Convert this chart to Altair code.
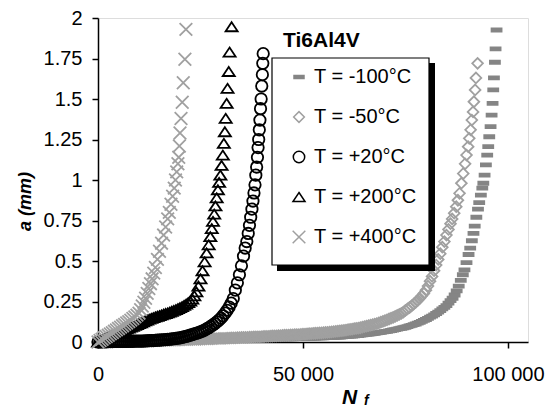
import altair as alt
import pandas as pd

FONT = "Liberation Sans, Arial, sans-serif"

series_names = ["T = -100°C", "T = -50°C", "T = +20°C", "T = +200°C", "T = +400°C"]

# T = -100 °C (dark grey squares)
N_m100 = [0, 2000, 4000, 6000, 8000, 10000, 12000, 14000, 16000, 18000,
          20000, 22000, 24000, 26000, 28000, 30000, 32000, 34000, 36000, 38000,
          40000, 40500, 41000, 41500, 42000, 42500, 43000, 43500, 44000, 44500,
          45000, 45500, 46000, 46500, 47000, 47500, 48000, 48500, 49000, 49500,
          50000, 50500, 51000, 51500, 52000, 52500, 53000, 53500, 54000, 54500,
          55000, 55500, 56000, 56500, 57000, 57500, 58000, 58500, 59000, 59500,
          60000, 60500, 61000, 61500, 62000, 62500, 63000, 63500, 64000, 64500,
          65000, 65500, 66000, 66500, 67000, 67500, 68000, 68500, 69000, 69500,
          70000, 70500, 71000, 71500, 72000, 72500, 73000, 73500, 74000, 74500,
          75000, 75500, 76000, 76500, 77000, 77500, 78000, 78500, 79000, 79500,
          80000, 80500, 81000, 81500, 82000, 82500, 83000, 83500, 84000, 84500,
          85000, 85500, 86000,
          86500, 87000, 87500, 88000, 88500, 89000, 89400, 89900, 90400, 90800,
          91200, 91600, 91900, 92300, 92700, 93000, 93400, 93750, 94000, 94310,
          94630, 94950, 95200, 95450, 95770, 96020, 96260, 96420, 96590, 96830,
          96990, 97230]
A_m100 = [0.000, 0.000, 0.000, 0.001, 0.001, 0.002, 0.002, 0.003, 0.004, 0.005,
          0.006, 0.007, 0.008, 0.009, 0.010, 0.011, 0.012, 0.013, 0.014, 0.015,
          0.016, 0.016, 0.017, 0.017, 0.017, 0.018, 0.018, 0.018, 0.019, 0.019,
          0.019, 0.019, 0.020, 0.020, 0.020, 0.020, 0.021, 0.021, 0.021, 0.021,
          0.021, 0.022, 0.022, 0.023, 0.023, 0.024, 0.024, 0.025, 0.025, 0.026,
          0.026, 0.027, 0.027, 0.028, 0.029, 0.029, 0.030, 0.031, 0.031, 0.032,
          0.033, 0.034, 0.035, 0.036, 0.037, 0.038, 0.039, 0.040, 0.043, 0.044,
          0.046, 0.047, 0.049, 0.050, 0.052, 0.054, 0.056, 0.058, 0.060, 0.062,
          0.064, 0.066, 0.069, 0.071, 0.074, 0.076, 0.079, 0.082, 0.085, 0.088,
          0.091, 0.095, 0.099, 0.103, 0.107, 0.111, 0.116, 0.121, 0.127, 0.133,
          0.139, 0.146, 0.153, 0.160, 0.168, 0.176, 0.185, 0.194, 0.204, 0.214,
          0.225, 0.240, 0.255,
          0.27, 0.29, 0.315, 0.345, 0.38, 0.415, 0.445, 0.49, 0.54, 0.58,
          0.625, 0.67, 0.715, 0.77, 0.82, 0.86, 0.907, 0.95, 0.98, 1.03,
          1.093, 1.154, 1.206, 1.267, 1.33, 1.40, 1.473, 1.556, 1.63, 1.727,
          1.81, 1.926]

# T = -50 °C (light grey open diamonds)
N_m50 = [0, 500, 1000, 1500, 2000, 2500, 3000, 3500, 4000, 4500,
         5000, 5500, 6000, 6500, 7000, 7500, 8000, 8500, 9000, 9500,
         10000, 10500, 11000, 11500, 12000, 12500, 13000, 13500, 14000, 14500,
         15000, 15500, 16000, 16500, 17000, 17500, 18000, 18500, 19000, 19500,
         20000, 20500, 21000, 21500, 22000, 22500, 23000, 23500, 24000, 24500,
         25000, 25500, 26000, 26500, 27000, 27500, 28000, 28500, 29000, 29500,
         30000, 30500, 31000, 31500, 32000, 32500, 33000, 33500, 34000, 34500,
         35000, 35500, 36000, 36500, 37000, 37500, 38000, 38500, 39000, 39500,
         40000, 40500, 41000, 41500, 42000, 42500, 43000, 43500, 44000, 44500,
         45000, 45500, 46000, 46500, 47000, 47500, 48000, 48500, 49000, 49500,
         50000, 50500, 51000, 51500, 52000, 52500, 53000, 53500, 54000, 54500,
         55000, 55500, 56000, 56500, 57000, 57500, 58000, 58500, 59000, 59500,
         60000, 60500, 61000, 61500, 62000, 62500, 63000, 63500, 64000, 64500,
         65000, 65500, 66000, 66500, 67000, 67500, 68000, 68500, 69000, 69500,
         70000, 70500, 71000, 71500, 72000, 72500, 73000, 73500, 74000, 74500,
         75000, 75500, 76000, 76500, 77000, 77500, 78000,
         78500, 79000, 79500, 80000, 80500, 81000, 81500, 82000, 82500, 83000,
         83500, 84000, 84500, 85000, 85500, 86000, 86400, 86900, 87400, 87800,
         88200, 88650, 89100, 89550, 89900, 90300, 90570, 90900, 91200, 91500,
         91700, 92000, 92200, 92600]
A_m50 = [0.000, 0.000, 0.001, 0.001, 0.001, 0.002, 0.002, 0.002, 0.003, 0.003,
         0.003, 0.003, 0.003, 0.004, 0.004, 0.004, 0.004, 0.005, 0.005, 0.005,
         0.005, 0.005, 0.006, 0.006, 0.007, 0.007, 0.007, 0.008, 0.008, 0.008,
         0.008, 0.009, 0.009, 0.010, 0.010, 0.010, 0.011, 0.011, 0.012, 0.012,
         0.012, 0.013, 0.013, 0.014, 0.014, 0.015, 0.015, 0.016, 0.016, 0.017,
         0.017, 0.018, 0.018, 0.019, 0.019, 0.020, 0.020, 0.021, 0.021, 0.022,
         0.022, 0.023, 0.023, 0.024, 0.024, 0.025, 0.025, 0.026, 0.027, 0.027,
         0.028, 0.028, 0.029, 0.029, 0.030, 0.030, 0.031, 0.031, 0.032, 0.032,
         0.033, 0.034, 0.035, 0.035, 0.036, 0.037, 0.038, 0.038, 0.040, 0.040,
         0.041, 0.042, 0.042, 0.043, 0.044, 0.044, 0.045, 0.046, 0.046, 0.047,
         0.048, 0.049, 0.050, 0.051, 0.052, 0.053, 0.054, 0.055, 0.056, 0.057,
         0.058, 0.059, 0.060, 0.061, 0.063, 0.064, 0.066, 0.067, 0.069, 0.070,
         0.072, 0.074, 0.076, 0.078, 0.080, 0.082, 0.084, 0.086, 0.088, 0.092,
         0.095, 0.098, 0.101, 0.104, 0.107, 0.110, 0.114, 0.118, 0.122, 0.127,
         0.132, 0.137, 0.142, 0.147, 0.152, 0.158, 0.164, 0.170, 0.177, 0.184,
         0.195, 0.204, 0.213, 0.223, 0.234, 0.245, 0.257,
         0.27, 0.285, 0.30, 0.32, 0.345, 0.375, 0.405, 0.44, 0.475, 0.51,
         0.545, 0.585, 0.62, 0.66, 0.695, 0.73, 0.76, 0.795, 0.835, 0.875,
         0.918, 0.98, 1.04, 1.10, 1.154, 1.206, 1.257, 1.31, 1.37, 1.42,
         1.483, 1.556, 1.63, 1.72]

# T = +20 °C (black open circles)
N_p20 = [0, 500, 1000, 1500, 2000, 2500, 3000, 3500, 4000, 4500,
         5000, 5500, 6000, 6500, 7000, 7500, 8000, 8500, 9000, 9500,
         10000, 10500, 11000, 11500, 12000, 12500, 13000, 13500, 14000, 14500,
         15000, 15500, 16000, 16500, 17000, 17500, 18000, 18500, 19000, 19500,
         20000, 20500, 21000, 21500, 22000, 22500, 23000, 23500, 24000, 24500,
         25000, 25500, 26000, 26500, 27000, 27500, 28000, 28500, 29000, 29500,
         30000, 30500, 31000, 31500, 32000, 32500, 33000,
         33500, 34000, 34500, 35000, 35500, 35900, 36300, 36650, 36950, 37250,
         37550, 37800, 38050, 38300, 38500, 38700, 38900, 39050, 39200, 39350,
         39500, 39650, 39800, 39950, 40100, 40200, 40300]
A_p20 = [0.000, 0.000, 0.001, 0.001, 0.001, 0.002, 0.002, 0.002, 0.003, 0.003,
         0.003, 0.003, 0.003, 0.003, 0.004, 0.004, 0.004, 0.004, 0.005, 0.005,
         0.005, 0.006, 0.006, 0.007, 0.007, 0.008, 0.008, 0.009, 0.010, 0.011,
         0.012, 0.013, 0.014, 0.015, 0.016, 0.017, 0.019, 0.020, 0.022, 0.024,
         0.026, 0.029, 0.032, 0.035, 0.038, 0.042, 0.046, 0.050, 0.054, 0.058,
         0.062, 0.068, 0.074, 0.081, 0.088, 0.096, 0.105, 0.114, 0.124, 0.135,
         0.147, 0.162, 0.178, 0.196, 0.216, 0.240, 0.268,
         0.32, 0.365, 0.415, 0.47, 0.53, 0.58, 0.62, 0.67, 0.72, 0.77,
         0.82, 0.87, 0.92, 0.97, 1.03, 1.08, 1.14, 1.20, 1.25, 1.31,
         1.37, 1.44, 1.50, 1.58, 1.65, 1.72, 1.78]

# T = +200 °C (black open triangles)
N_p200 = [0, 500, 1000, 1500, 2000, 2500, 3000, 3500, 4000, 4500,
          5000, 5500, 6000, 6500, 7000, 7500, 8000, 8500, 9000, 9500,
          10000, 10500, 11000, 11500, 12000, 12500, 13000, 13500, 14000, 14500,
          15000, 15500, 16000, 16500, 17000, 17500, 18000, 18500, 19000, 19500,
          20000, 20500, 21000, 21500, 22000, 22500, 23000,
          23500, 24000, 24500, 25000, 25500, 26000, 26500, 27000, 27400, 27750,
          28050, 28350, 28650, 28950, 29250, 29550, 29850, 30150, 30450, 30700,
          30950, 31150, 31380, 31600, 31900, 32100, 32600]
A_p200 = [0.000, 0.007, 0.013, 0.020, 0.027, 0.033, 0.039, 0.045, 0.050, 0.055,
          0.060, 0.065, 0.070, 0.075, 0.080, 0.086, 0.092, 0.097, 0.103, 0.108,
          0.114, 0.119, 0.125, 0.130, 0.136, 0.141, 0.146, 0.150, 0.155, 0.159,
          0.163, 0.167, 0.172, 0.176, 0.180, 0.185, 0.190, 0.195, 0.200, 0.206,
          0.212, 0.219, 0.226, 0.234, 0.243, 0.253, 0.265,
          0.285, 0.31, 0.345, 0.39, 0.44, 0.495, 0.55, 0.60, 0.65, 0.70,
          0.745, 0.79, 0.84, 0.89, 0.94, 0.985, 1.03, 1.09, 1.154, 1.226,
          1.298, 1.381, 1.473, 1.566, 1.67, 1.79, 1.946]

# T = +400 °C (grey crosses)
N_p400 = [0, 500, 1000, 1500, 2000, 2500, 3000, 3500, 4000, 4500,
          5000, 5500, 6000, 6500, 7000, 7500, 8000, 8500, 9000, 9500,
          10000, 10400, 10800, 11200, 11600, 12000, 12400, 12800, 13200, 13600,
          14000, 14500, 15000, 15500, 16000, 16500, 17000, 17400, 17800, 18200,
          18600, 18900, 19200, 19500, 19700, 19850, 20000, 20250, 20550, 20800,
          21200, 21450]
A_p400 = [0.000, 0.009, 0.017, 0.026, 0.034, 0.042, 0.050, 0.058, 0.067, 0.075,
          0.083, 0.092, 0.100, 0.109, 0.117, 0.126, 0.135, 0.145, 0.155, 0.166,
          0.178, 0.200, 0.222, 0.245, 0.270, 0.300, 0.330, 0.360, 0.390, 0.425,
          0.46, 0.51, 0.56, 0.61, 0.66, 0.71, 0.76, 0.80, 0.85, 0.90,
          0.95, 1.00, 1.05, 1.10, 1.14, 1.21, 1.29, 1.38, 1.48, 1.60,
          1.745, 1.93]

x_ticks = [0, 50000, 100000]
y_ticks = [0, 0.25, 0.5, 0.75, 1, 1.25, 1.5, 1.75, 2]

shapes = ["M-1,-0.3L1,-0.3L1,0.3L-1,0.3Z", "diamond", "circle",
          "M0,-0.75L1,0.75L-1,0.75Z", "M-1,-1L1,1M-1,1L1,-1"]
fills = ["#858585", "transparent", "transparent", "transparent", "transparent"]
strokes = ["#858585", "#a0a0a0", "#000000", "#000000", "#a0a0a0"]
sizes = [100, 160, 140, 210, 200]

rows = []
for name, ns, avals in zip(series_names,
                           [N_m100, N_m50, N_p20, N_p200, N_p400],
                           [A_m100, A_m50, A_p20, A_p200, A_p400]):
    if len(ns) != len(avals):
        raise ValueError(f"length mismatch for {name}: {len(ns)} vs {len(avals)}")
    for n, a in zip(ns, avals):
        rows.append({"N": n, "a": a, "series": name})
df = pd.DataFrame(rows)

leg = alt.Legend(title=None, orient="none", legendX=191, legendY=49,
                 labelFont=FONT, labelFontSize=20, labelColor="black",
                 rowPadding=20, labelOffset=5, padding=0, labelLimit=300,
                 symbolStrokeWidth=1.5, symbolOpacity=1)

points = alt.Chart(df).mark_point(opacity=1, strokeWidth=1.8).encode(
    x=alt.X("N:Q", scale=alt.Scale(domain=[0, 104900], nice=False),
            axis=alt.Axis(values=x_ticks, grid=False,
                          labelExpr="replace(format(datum.value, ','), ',', ' ')",
                          labelFont=FONT, labelFontSize=20, labelColor="black",
                          labelPadding=16, labelFlush=False, labelOverlap=False,
                          tickSize=6, tickColor="black", tickWidth=1.5,
                          domainColor="black", domainWidth=1.5,
                          title="N", titleFont=FONT, titleFontSize=21, titleFontWeight="bold",
                          titleFontStyle="italic", titleColor="black",
                          titleX=251, titleY=61, titleAlign="center", titleBaseline="alphabetic")),
    y=alt.Y("a:Q", scale=alt.Scale(domain=[0, 2], nice=False),
            axis=alt.Axis(values=y_ticks, grid=False, labelExpr="datum.value + ''",
                          labelFont=FONT, labelFontSize=20, labelColor="black",
                          labelPadding=10, labelFlush=False, labelOverlap=False,
                          tickSize=6, tickColor="black", tickWidth=1.5,
                          domainColor="black", domainWidth=1.5,
                          title="a (mm)", titleFont=FONT, titleFontSize=18, titleFontWeight="bold",
                          titleFontStyle="italic", titleColor="black",
                          titleX=-73, titleY=183, titleAngle=270, titleAlign="center",
                          titleBaseline="middle")),
    shape=alt.Shape("series:N", scale=alt.Scale(domain=series_names, range=shapes), legend=leg),
    fill=alt.Fill("series:N", scale=alt.Scale(domain=series_names, range=fills), legend=leg),
    stroke=alt.Stroke("series:N", scale=alt.Scale(domain=series_names, range=strokes), legend=leg),
    size=alt.Size("series:N", scale=alt.Scale(domain=series_names, range=sizes), legend=leg),
)

one = pd.DataFrame({"k": [0]})
shadow = alt.Chart(one).mark_rect(color="black").encode(
    x=alt.value(179), x2=alt.value(337), y=alt.value(45), y2=alt.value(253))
box = alt.Chart(one).mark_rect(fill="white", stroke="black", strokeWidth=1.2).encode(
    x=alt.value(174), x2=alt.value(331), y=alt.value(40), y2=alt.value(247))

title_df = pd.DataFrame({"t": ["Ti6Al4V"]})
title_txt = alt.Chart(title_df).mark_text(font=FONT, fontSize=21, fontWeight="bold", align="left",
                                          baseline="alphabetic", color="black").encode(
    text="t:N", x=alt.value(185), y=alt.value(28.5))

sub_df = pd.DataFrame({"t": ["f"]})
sub_txt = alt.Chart(sub_df).mark_text(font=FONT, fontSize=14, fontWeight="bold", fontStyle="italic",
                                      align="left", baseline="alphabetic", color="black").encode(
    text="t:N", x=alt.value(266), y=alt.value(387))

chart = alt.layer(points, shadow, box, title_txt, sub_txt).properties(
    width=430, height=324,
    autosize=alt.AutoSizeParams(type="none"),
    padding={"left": 90, "top": 10, "right": 17, "bottom": 67},
).configure_view(stroke="#a0a0a0", strokeWidth=2).configure(background="white")

chart.save("out.html", embed_options={"renderer": "svg", "actions": False})
